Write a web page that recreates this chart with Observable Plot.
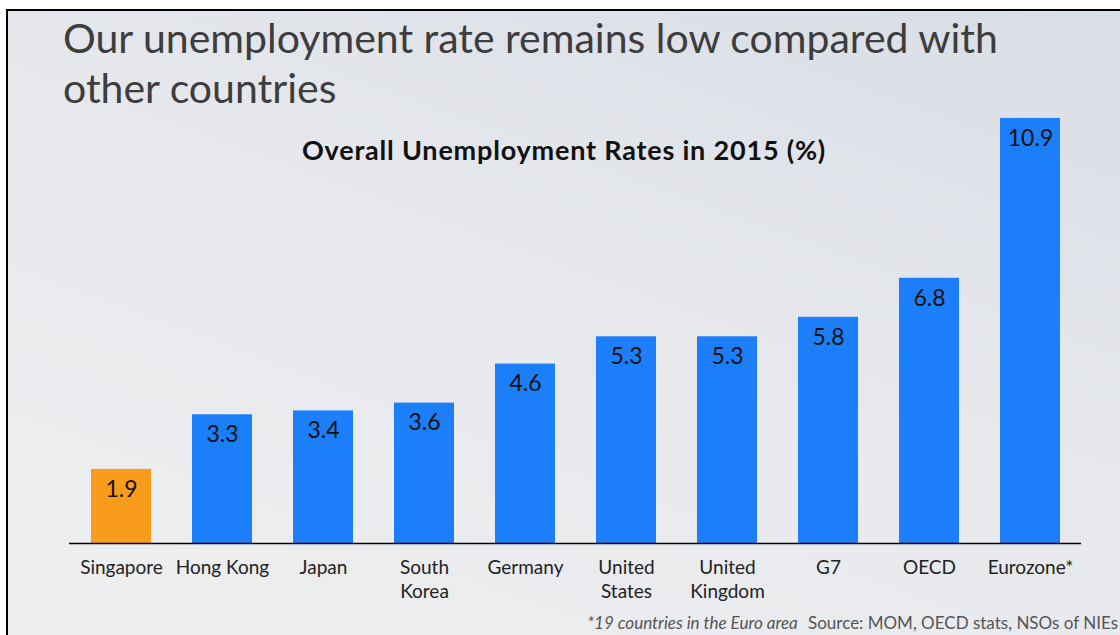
<!DOCTYPE html>
<html>
<head>
<meta charset="utf-8">
<script src="https://cdn.jsdelivr.net/npm/d3@7"></script>
<script src="https://cdn.jsdelivr.net/npm/@observablehq/plot@0.6"></script>
<style>
  html, body { margin: 0; padding: 0; width: 1120px; height: 635px; overflow: hidden; background: #fff; }
  #slide {
    position: absolute; left: 6px; top: 9px; width: 1112px; height: 640px;
    border-left: 2px solid #000; border-top: 2px solid #000;
    background: linear-gradient(200deg, #d9dde5 0%, #e6e8ec 45%, #eeeff0 100%);
    font-family: Lato, "Open Sans", sans-serif;
  }
  #title {
    position: absolute; left: 55px; top: 2px; width: 1000px;
    font-size: 41px; line-height: 50px; color: #3d3d3d; font-weight: 400;
  }
  #subtitle {
    position: absolute; left: 0; top: 122px; width: 1112px; text-align: center;
    font-size: 27px; font-weight: 700; color: #111; letter-spacing: 0.8px;
  }
  #chart { position: absolute; left: -8px; top: 89px; }
  #caption {
    position: absolute; right: 2px; top: 601px; font-size: 17px; color: #555;
    white-space: nowrap;
  }
  #caption i { margin-right: 6px; }
</style>
</head>
<body>
<div id="slide">
  <div id="title">Our unemployment rate remains low compared with<br>other countries</div>
  <div id="subtitle">Overall Unemployment Rates in 2015 (%)</div>
  <div id="chart"></div>
  <div id="caption"><i>*19 countries in the Euro area</i> Source: MOM, OECD stats, NSOs of NIEs</div>
</div>
<script>
const categories = ["Singapore", "Hong Kong", "Japan", "South Korea", "Germany",
  "United States", "United Kingdom", "G7", "OECD", "Eurozone*"];
const tickLabels = ["Singapore", "Hong Kong", "Japan", "South\nKorea", "Germany",
  "United\nStates", "United\nKingdom", "G7", "OECD", "Eurozone*"];
const rates = [1.9, 3.3, 3.4, 3.6, 4.6, 5.3, 5.3, 5.8, 6.8, 10.9];
const highlight = "Singapore";

const data = categories.map((c, i) => ({category: c, label: tickLabels[i], rate: rates[i]}));
const labelOf = new Map(data.map(d => [d.category, d.label]));

const chart = Plot.plot({
  width: 1120,
  height: 510,
  marginLeft: 69,
  marginRight: 39,
  marginTop: 14,
  marginBottom: 67,
  style: {background: "transparent", fontFamily: "Lato, 'Open Sans', sans-serif"},
  x: {domain: categories, paddingInner: 0.407, paddingOuter: 0.2035, axis: null},
  y: {domain: [0, 11], axis: null},
  marks: [
    Plot.barY(data, {x: "category", y: "rate",
      fill: d => d.category === highlight ? "#fa9c1b" : "#1c7ef8"}),
    Plot.text(data, {x: "category", y: "rate", text: d => d.rate.toFixed(1),
      dy: 20, fontSize: 23, fill: "#111", lineAnchor: "middle"}),
    Plot.ruleY([0], {stroke: "#000", strokeWidth: 1.5}),
    Plot.axisX({tickSize: 0, tickPadding: 14, fontSize: 19, fill: "#222", label: null,
      lineHeight: 1.25, tickFormat: c => labelOf.get(c)})
  ]
});
document.getElementById("chart").appendChild(chart);
</script>
</body>
</html>
